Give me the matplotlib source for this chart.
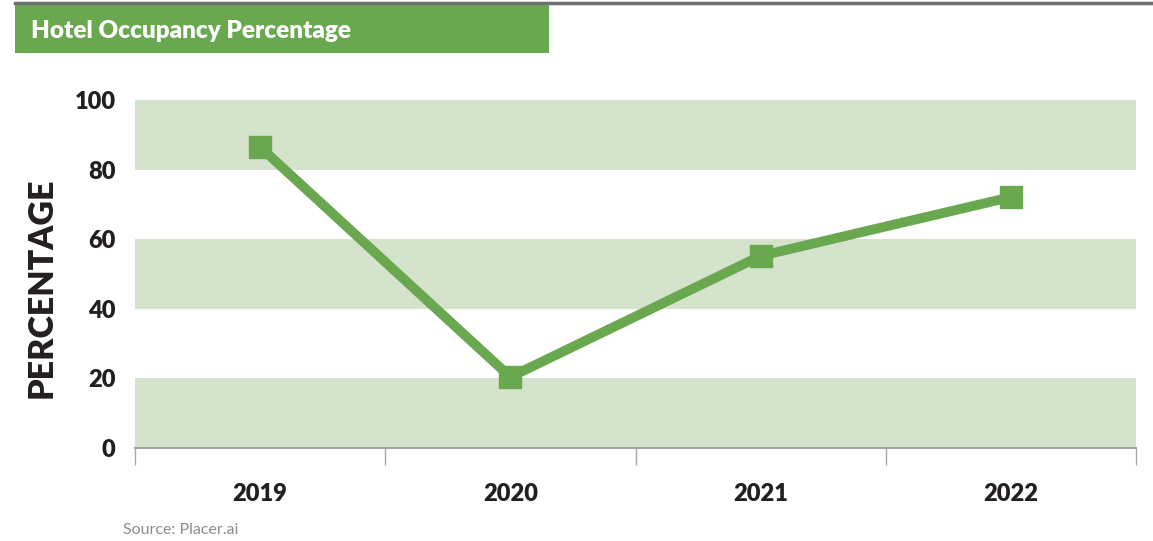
import matplotlib.pyplot as plt
from matplotlib.patches import Rectangle

years = ['2019', '2020', '2021', '2022']
occupancy = [86.5, 20.4, 55.2, 72.1]
y_ticks = [0, 20, 40, 60, 80, 100]
bands = [(0, 20), (40, 60), (80, 100)]

GREEN = '#6aa84f'
BAND = '#d5e3cc'
TEXT = '#231f20'

plt.rcParams['font.family'] = ['Lato', 'DejaVu Sans']

fig = plt.figure(figsize=(11.53, 5.41), dpi=100)
ax = fig.add_axes([135 / 1153, 93 / 541, 1001 / 1153, 348 / 541])

x = list(range(len(years)))
for lo, hi in bands:
    ax.axhspan(lo, hi, color=BAND, lw=0, zorder=0)

ax.plot(x, occupancy, color=GREEN, lw=7, marker='s', markersize=16,
        solid_joinstyle='miter', zorder=3, clip_on=False)

ax.set_xlim(-0.5, len(years) - 0.5)
ax.set_ylim(0, 100)
ax.set_yticks(y_ticks)
ax.set_yticklabels([str(v) for v in y_ticks], fontsize=17, fontweight='heavy', color=TEXT)
ax.tick_params(axis='y', length=0, pad=14)

# ticks sit on the category boundaries, labels in the middle
ax.set_xticks([i - 0.5 for i in range(len(years) + 1)])
ax.set_xticklabels([])
ax.set_xticks(x, minor=True)
ax.set_xticklabels(years, minor=True, fontsize=17, fontweight='heavy', color=TEXT)
ax.tick_params(axis='x', which='major', length=12, width=1, color='#a6a6a6', direction='out')
ax.tick_params(axis='x', which='minor', length=0, pad=25)

for side in ['top', 'right', 'left']:
    ax.spines[side].set_visible(False)
ax.spines['bottom'].set_color('#a6a6a6')
ax.spines['bottom'].set_linewidth(1.5)

ax.set_ylabel('PERCENTAGE', fontsize=24.5, fontweight='heavy', color=TEXT)
ax.yaxis.set_label_coords(-0.077, 0.46)

# header bar and title box
fig.add_artist(plt.Line2D([15 / 1153, 1], [1 - 3 / 541] * 2, color='#6d6e71', lw=2.5,
                          transform=fig.transFigure))
fig.add_artist(Rectangle((15 / 1153, 1 - 53 / 541), 534 / 1153, 48 / 541,
                         transform=fig.transFigure, color=GREEN, lw=0))
fig.text(31 / 1153, 1 - 31 / 541, 'Hotel Occupancy Percentage', color='white',
         fontsize=17.5, fontweight='heavy', va='center', ha='left')

fig.text(123 / 1153, 1 - 530 / 541, 'Source: Placer.ai', color='#8c8c8c',
         fontsize=11.5, va='center', ha='left')

fig.savefig('out.png', dpi=100)
